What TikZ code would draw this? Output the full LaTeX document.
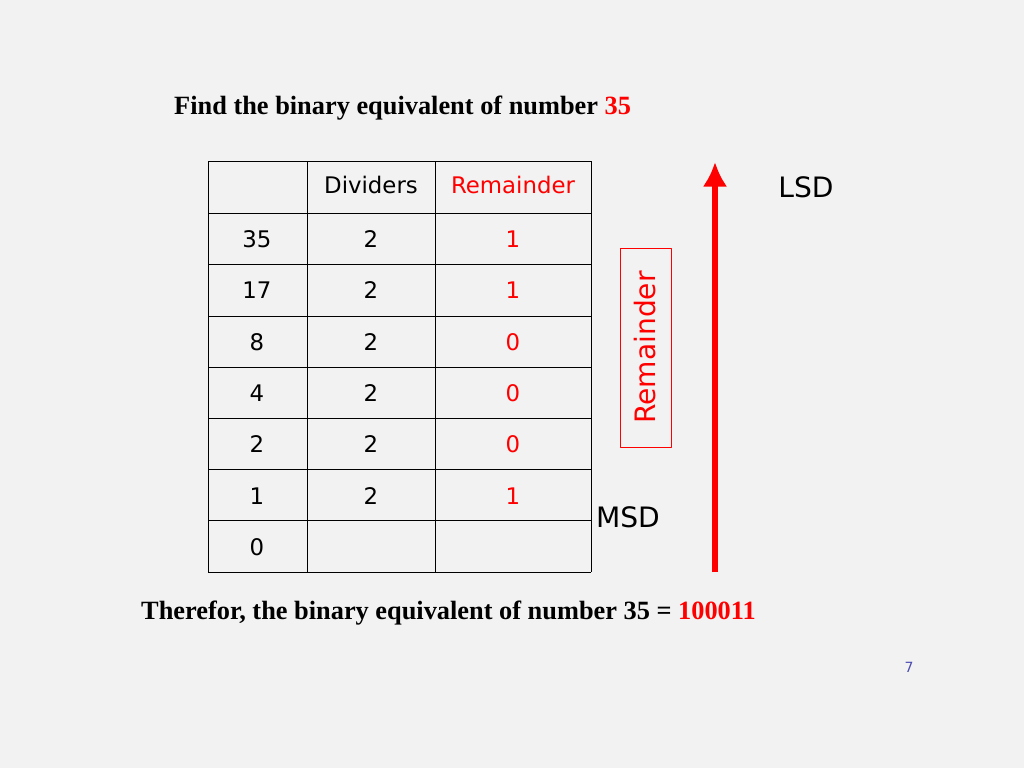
\documentclass[tikz,border=0pt]{standalone}
\usepackage{fontspec}
\setmainfont{Liberation Serif}
\newfontfamily\cellfont{DejaVu Sans}
\usetikzlibrary{positioning,arrows.meta}
\definecolor{pagebg}{HTML}{F2F2F2}
\definecolor{remred}{HTML}{FF0000}
\tikzset{>=latex,
  celltext/.style={font=\cellfont\fontsize{13}{15}\selectfont},
  remtext/.style={celltext, text=remred},
  titletext/.style={font=\bfseries\fontsize{15}{18}\selectfont, anchor=west},
  sidetext/.style={font=\cellfont\fontsize{16}{19}\selectfont}}

\begin{document}
\begin{tikzpicture}[x=0.02cm, y=-0.02cm, line join = round]
    \fill[pagebg] (0,0) rectangle (1024,768);
    \useasboundingbox (0,0) rectangle (1024,768);

    % title
    \node[titletext] (title) at (168,108) {Find the binary equivalent of number \textcolor{remred}{35}};

    % table grid
    \foreach \y in {161,213,264,316,367,418,469,520,572}
        \draw[thin] (208,\y) -- (591,\y);
    \foreach \x in {208,307,435,591}
        \draw[thin] (\x,161) -- (\x,572);

    % header
    \node[celltext] (hdiv) at (371,185) {Dividers};
    \node[remtext] (hrem) at (513,185) {Remainder};

    % rows
    \foreach \n/\d/\r [count=\i] in {35/2/1, 17/2/1, 8/2/0, 4/2/0, 2/2/0, 1/2/1, 0//}{
        \pgfmathsetmacro{\yy}{187.5+51.4*\i}
        \node[celltext] (num\i) at (257,\yy) {\n};
        \node[celltext] (div\i) at (371,\yy) {\d};
        \node[remtext] (rem\i) at (513,\yy) {\r};
    }

    % remainder box
    \node[draw=remred, thin, minimum width=51*0.02cm, minimum height=199*0.02cm,
          inner sep=0pt] (rbox) at (645.5,347.5) {};
    \node[sidetext, text=remred, rotate=90] (rlabel) at (rbox.center) {Remainder};

    % arrow
    \coordinate (abot) at (715,572);
    \coordinate (atop) at (715,162);
    \draw[remred, line width=3.5pt, -{Latex[length=14pt,width=14pt]}] (abot) -- (atop);

    \node[sidetext] (lsd) at (806,187) {LSD};
    \node[sidetext] (msd) at (628,517) {MSD};

    % result
    \node[titletext] (result) at (135,613) {Therefor, the binary equivalent of number 35 = \textcolor{remred}{100011}};

    \node[font=\cellfont\fontsize{8}{10}\selectfont, text=blue!40!gray] (pageno) at (909,667) {7};
\end{tikzpicture}
\end{document}
